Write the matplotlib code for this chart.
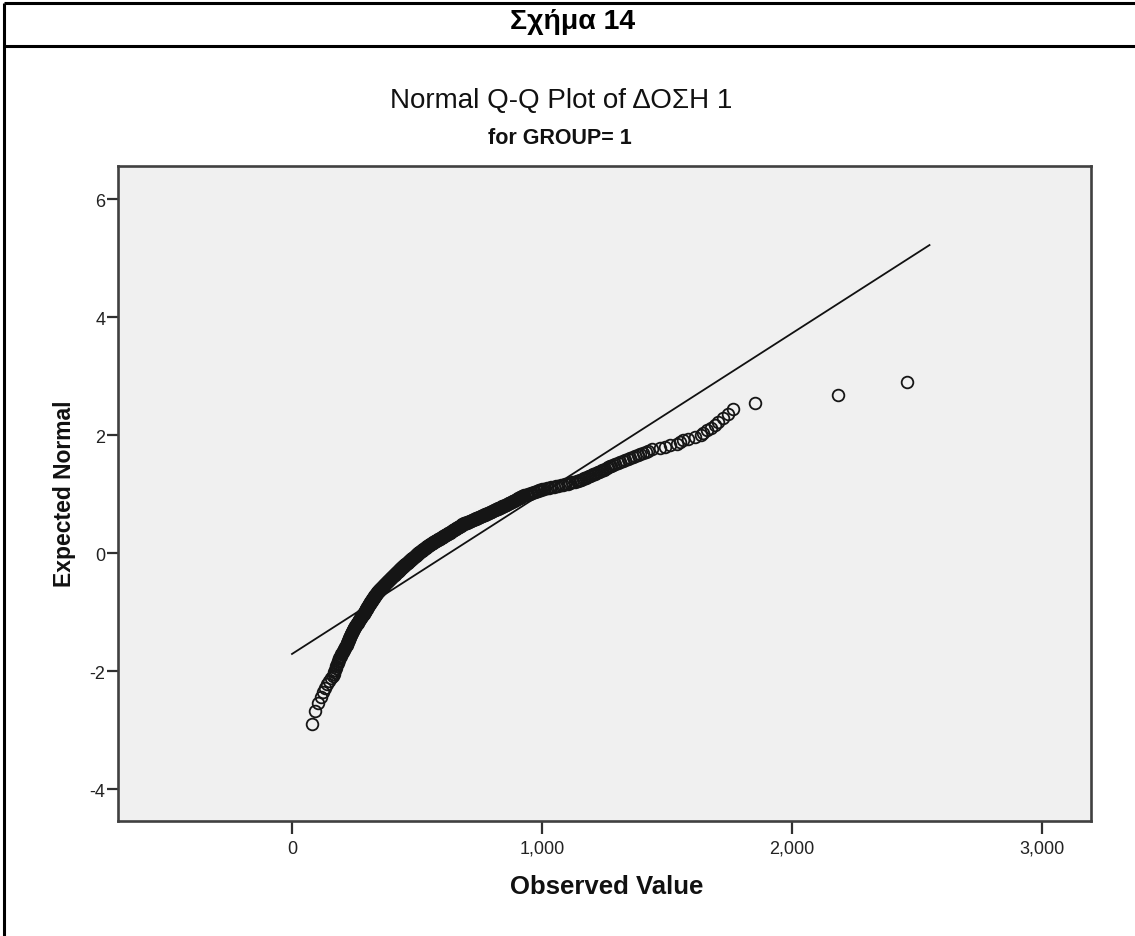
import matplotlib
matplotlib.use("Agg")
import matplotlib.pyplot as plt
from matplotlib.lines import Line2D
from matplotlib.ticker import FuncFormatter
from statistics import NormalDist

plt.rcParams["font.family"] = ["Liberation Sans", "DejaVu Sans"]

# ---- data: observed doses (sorted), group 1 ----
dose_low = [80, 92, 104, 116, 124, 132, 140, 148, 156, 164,
            167, 169, 172, 174, 177, 179, 182, 184, 187, 189,
            192, 194, 197, 199, 202, 204, 206, 209, 211, 213, 216]
dose_q1 = [218, 219, 221, 222, 223, 225, 226, 227, 229, 230,
           232, 233, 234, 236, 237, 238, 240, 241, 242, 244,
           245, 247, 248, 249, 251, 252, 253, 255, 256, 258,
           259, 260, 262, 263, 264, 266, 267, 268, 270, 271,
           273, 274, 275, 277, 278, 279, 281, 282, 284, 285,
           286, 288, 289, 290,
           291, 292, 293, 294, 295, 296, 297, 298, 299, 300,
           301, 302, 303, 304, 305, 306, 307, 308, 309, 310,
           311, 312, 313, 314, 315, 316, 317, 318, 319, 320,
           321, 322, 323, 324, 325, 326, 327, 328, 329, 330,
           331, 332, 333, 334, 335, 336, 337, 338, 339, 340,
           341, 342, 344, 345, 346, 347, 348, 349, 350, 352]
dose_q2 = [353, 355, 356, 357, 358, 359, 361, 362, 363, 364,
           366, 367, 368, 369, 370, 372, 373, 374, 375, 377,
           378, 379, 380, 382, 383, 384, 385, 386, 388, 389,
           390, 391, 393, 394, 395, 396, 397, 399, 400, 401,
           402, 404, 405, 406, 407, 409, 410, 411, 412, 413,
           415, 416, 417, 418, 420, 421, 422, 423, 424, 426,
           427, 428, 429, 430, 431, 432,
           433, 435, 436, 437, 438, 440, 441, 442, 444, 445,
           446, 447, 449, 450, 451, 453, 454, 455, 456, 458,
           459, 460, 462, 463, 464, 465, 467, 468, 469, 471,
           472, 473, 474, 476, 477, 478, 480, 481, 482, 483,
           485, 486, 487, 489, 490, 491, 492, 494, 495, 496,
           498, 499, 500, 501, 503, 504, 505]
dose_q3 = [506, 508, 509, 511, 512, 514, 515, 517, 518, 520,
           521, 523, 524, 525, 527, 528, 530, 531, 533, 534,
           536, 537, 539, 540, 542, 543, 545, 546, 548, 549,
           551, 552,
           554, 556, 558, 560, 562, 564, 565, 567, 569, 571,
           573, 575, 577, 579, 581, 583, 584, 586, 588, 590,
           592, 594, 596, 598, 600, 602, 603, 605, 607, 609,
           611, 613, 615, 617, 619, 621, 622, 624, 626, 628,
           630, 632, 634, 636, 638, 640, 641, 643, 645, 647,
           649, 651, 653, 655, 657, 659, 660, 662, 664, 666,
           668, 670, 672, 674, 676, 678, 679, 681, 683,
           686, 689, 692, 695, 698, 701, 704, 707, 710, 713,
           716, 719, 722, 725, 728, 731, 734, 737, 740, 743,
           746, 749, 752, 755, 758, 761, 764, 767, 770, 773,
           776, 779, 782, 785, 788, 791]
dose_q4 = [794, 797, 800, 804, 807, 810, 813, 816, 819, 822,
           825, 829, 832, 835, 838, 841, 844, 847, 851, 854,
           857, 860, 863, 866, 869, 873, 876, 879, 882, 885,
           888, 891, 895, 898, 901, 904, 907, 910, 913, 917,
           920, 923,
           928, 934, 939, 945, 950, 956, 961, 967, 972, 978,
           983, 989, 994, 1000,
           1009, 1019, 1028, 1037, 1046, 1056, 1065, 1074, 1083, 1093,
           1102, 1111, 1120, 1130, 1139,
           1145, 1151, 1157, 1163, 1169, 1175, 1181, 1187, 1193, 1199,
           1205, 1211, 1217, 1223, 1229, 1235, 1241, 1247, 1253, 1259,
           1265, 1271, 1277, 1283,
           1293, 1303, 1313, 1323, 1333, 1343, 1353, 1363, 1373, 1383,
           1393, 1403, 1414, 1425]
dose_high = [1440, 1470, 1490, 1510, 1539, 1550, 1565, 1583, 1610, 1635,
             1645, 1660, 1675, 1690, 1705, 1723, 1745, 1763, 1850, 2182,
             2458]

observed = dose_low + dose_q1 + dose_q2 + dose_q3 + dose_q4 + dose_high

# reference line of the normal distribution (mean, sd) and its drawn range
line_mean = 629
line_sd = 368
line_x = [0, 2550]

x_ticks = [0, 1000, 2000, 3000]
y_ticks = [-4, -2, 0, 2, 4, 6]

header_text = "Σχήμα 14"
title_text = "Normal Q-Q Plot of ΔΟΣΗ 1"
subtitle_text = "for GROUP= 1"
x_label = "Observed Value"
y_label = "Expected Normal"

# ---- expected normal scores from ranks ----
n = len(observed)
nd = NormalDist()
obs_sorted = sorted(observed)
expected = [nd.inv_cdf((i + 1) / (n + 1)) for i in range(n)]
line_y = [(v - line_mean) / line_sd for v in line_x]

# ---- figure ----
W, H = 1135, 937
fig = plt.figure(figsize=(W / 100, H / 100), dpi=100)
fig.patch.set_facecolor("white")

def fx(px):
    return px / W

def fy(py):
    return 1 - py / H

# table-style frame around the figure
frame_kw = dict(color="black", linewidth=2.2, transform=fig.transFigure,
                solid_capstyle="butt")
fig.add_artist(Line2D([fx(4), fx(1135)], [fy(4), fy(4)], **frame_kw))
fig.add_artist(Line2D([fx(4), fx(4)], [fy(4), fy(937)], **frame_kw))
fig.add_artist(Line2D([fx(4), fx(1135)], [fy(47), fy(47)], **frame_kw))

fig.text(fx(573), fy(22), header_text, ha="center", va="center",
         fontsize=20.5, fontweight="bold", color="black")
fig.text(fx(561), fy(101), title_text, ha="center", va="center",
         fontsize=20, color="#111111")
fig.text(fx(560), fy(139), subtitle_text, ha="center", va="center",
         fontsize=15.5, fontweight="bold", color="#111111")

ax = fig.add_axes([fx(118), fy(822), (1091 - 118) / W, (822 - 167) / H])
ax.set_facecolor("#f0f0f0")
ax.set_xlim(-696, 3196)
ax.set_ylim(-4.54, 6.56)

ax.plot(line_x, line_y, color="#111111", linewidth=1.3, zorder=2)
ax.plot(obs_sorted, expected, linestyle="none", marker="o", markersize=8.4,
        markerfacecolor="none", markeredgecolor="#151515",
        markeredgewidth=1.3, zorder=3)

for side in ["left", "right", "top", "bottom"]:
    ax.spines[side].set_color("#404040")
    ax.spines[side].set_linewidth(1.9)

ax.set_xticks(x_ticks)
ax.set_yticks(y_ticks)
ax.xaxis.set_major_formatter(FuncFormatter(lambda v, _: f"{v:,.0f}"))
ax.yaxis.set_major_formatter(FuncFormatter(lambda v, _: f"{v:.0f}"))
ax.tick_params(axis="x", direction="out", length=9.5, width=1.6,
               color="#303030", pad=4, labelsize=13, labelcolor="#222222")
ax.tick_params(axis="y", direction="out", length=8, width=1.6,
               color="#303030", pad=1, labelsize=13, labelcolor="#222222")

fig.text(fx(65), fy(494), y_label, ha="center", va="center", rotation=90,
         fontsize=16.5, fontweight="bold", color="#111111")
fig.text(fx(607), fy(887), x_label, ha="center", va="center",
         fontsize=18.5, fontweight="bold", color="#111111")

fig.savefig("out.png", dpi=100, facecolor="white")
